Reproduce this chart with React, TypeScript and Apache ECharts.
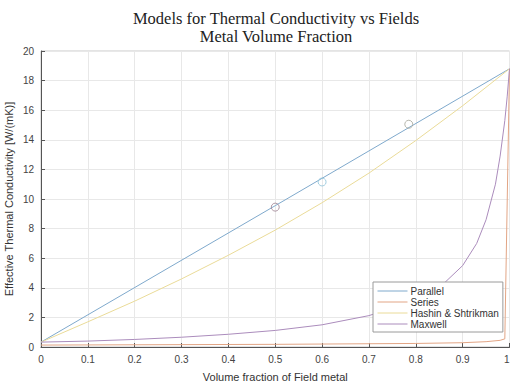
import React, { useEffect, useRef } from "react";
import * as echarts from "echarts";

const titleLines = ["Models for Thermal Conductivity vs Fields", "Metal Volume Fraction"];
const xAxisName = "Volume fraction of Field metal";
const yAxisName = "Effective Thermal Conductivity [W/(mK)]";

const parallelPhi = [0, 0.5, 1];
const parallelK = [0.33, 9.55, 18.8];

const seriesPhi = [0, 0.5, 0.8, 0.9, 0.95, 0.98, 0.99, 1];
const seriesK = [0.13, 0.18, 0.24, 0.29, 0.36, 0.45, 0.55, 18.8];

const hashinPhi = [0, 0.1, 0.2, 0.3, 0.4, 0.5, 0.6, 0.7, 0.8, 0.9, 1];
const hashinK = [0.33, 1.7, 3.1, 4.6, 6.2, 7.9, 9.75, 11.75, 13.95, 16.3, 18.8];

const maxwellPhi = [0, 0.1, 0.2, 0.3, 0.4, 0.5, 0.6, 0.7, 0.8, 0.85, 0.9, 0.93, 0.95, 0.97, 0.98, 0.99, 0.995, 1];
const maxwellK = [0.33, 0.4, 0.51, 0.66, 0.86, 1.12, 1.5, 2.12, 3.15, 4.0, 5.5, 7.0, 8.6, 11.0, 12.9, 15.3, 16.9, 18.8];

const measuredPhi = [0.5, 0.6, 0.785];
const measuredK = [9.45, 11.15, 15.05];
const measuredColors = ["#9c7f90", "#8ec3da", "#a4a497"];

const legendNames = ["Parallel", "Series", "Hashin & Shtrikman", "Maxwell"];
const lineColors = ["#7fa9cc", "#e2a585", "#eadb98", "#ab8cbc"];

const pair = (xs: number[], ys: number[]) => xs.map((x, i) => [x, ys[i]]);

export default function App() {
  const ref = useRef<HTMLDivElement>(null);
  useEffect(() => {
    if (!ref.current) return;
    const chart = echarts.init(ref.current, null, { renderer: "svg" });
    const lineData = [
      pair(parallelPhi, parallelK),
      pair(seriesPhi, seriesK),
      pair(hashinPhi, hashinK),
      pair(maxwellPhi, maxwellK),
    ];
    chart.setOption({
      animation: false,
      backgroundColor: "#ffffff",
      textStyle: { fontFamily: "Liberation Sans, Arial, sans-serif" },
      graphic: [
        {
          type: "text",
          x: 276,
          y: 9,
          style: {
            text: titleLines.join("\n"),
            font: "16.5px 'Liberation Serif', 'Times New Roman', serif",
            fill: "#222222",
            textAlign: "center",
            lineHeight: 18,
          },
        },
      ],
      grid: {
        left: 41,
        right: 0.5,
        top: 51,
        bottom: 36,
        outerBoundsMode: "none",
        containLabel: false,
        show: true,
        borderColor: "#c8c8c8",
        borderWidth: 1,
        backgroundColor: "transparent",
      },
      legend: {
        orient: "vertical",
        left: 373,
        top: 282,
        data: legendNames,
        itemWidth: 30,
        itemHeight: 9,
        itemGap: 1,
        padding: [4, 4, 3, 4],
        backgroundColor: "#ffffff",
        borderColor: "#9a9a9a",
        borderWidth: 1,
        borderRadius: 0,
        itemStyle: { opacity: 0 },
        lineStyle: { width: 1 },
        textStyle: { fontSize: 10, color: "#333333", padding: [0, 0, 0, -2] },
      },
      xAxis: {
        type: "value",
        min: 0,
        max: 1,
        interval: 0.1,
        name: xAxisName,
        nameLocation: "middle",
        nameGap: 24,
        nameMoveOverlap: false,
        nameTextStyle: { fontSize: 11, color: "#333333" },
        axisLine: { show: true, lineStyle: { color: "#555555" } },
        axisTick: { show: true, inside: true, length: 4, lineStyle: { color: "#555555" } },
        axisLabel: { fontSize: 10, color: "#444444", margin: 7, alignMaxLabel: "right" },
        splitLine: { show: true, lineStyle: { color: "#e8e8e8" } },
      },
      yAxis: {
        type: "value",
        min: 0,
        max: 20,
        interval: 2,
        name: yAxisName,
        nameLocation: "middle",
        nameGap: 27,
        nameMoveOverlap: false,
        nameTextStyle: { fontSize: 11, color: "#333333" },
        axisLine: { show: true, lineStyle: { color: "#555555" } },
        axisTick: { show: true, inside: true, length: 4, lineStyle: { color: "#555555" } },
        axisLabel: { fontSize: 10, color: "#444444", margin: 7 },
        splitLine: { show: true, lineStyle: { color: "#e8e8e8" } },
      },
      series: [
        ...legendNames.map((name, i) => ({
          name,
          type: "line",
          data: lineData[i],
          symbol: "none",
          smooth: false,
          lineStyle: { color: lineColors[i], width: 1 },
          itemStyle: { color: lineColors[i] },
        })),
        {
          name: "Measured",
          type: "scatter",
          symbol: "circle",
          symbolSize: 8,
          data: measuredPhi.map((x, i) => ({
            value: [x, measuredK[i]],
            itemStyle: { color: "rgba(0,0,0,0)", borderColor: measuredColors[i], borderWidth: 1 },
          })),
          z: 5,
        },
      ],
    });
    return () => chart.dispose();
  }, []);
  return (
    <div
      ref={ref}
      style={{ position: "absolute", left: 0, top: 0, width: 510, height: 383 }}
    />
  );
}
